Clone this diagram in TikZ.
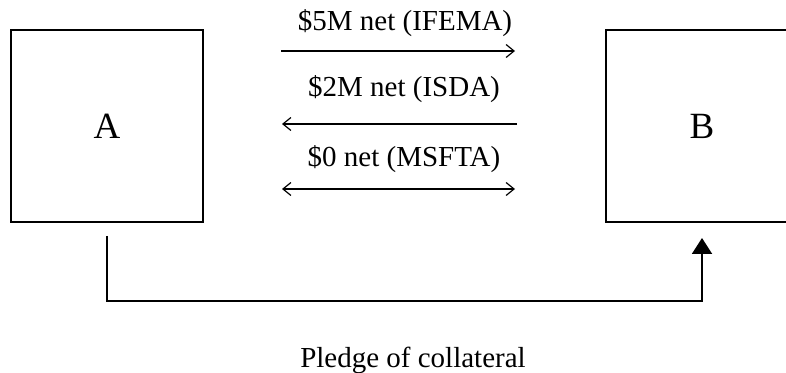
\documentclass[tikz,border=0pt]{standalone}
\usepackage{fontspec}
\setmainfont{Liberation Serif}
\usetikzlibrary{arrows.meta,calc}

\begin{document}
\begin{tikzpicture}[x=0.5pt,y=-0.5pt,
    party/.style={draw, line width=1pt, minimum width=96pt, minimum height=96pt,
        inner sep=0pt, font=\fontsize{18.5}{20}\selectfont},
    deal/.style={anchor=base, inner sep=0pt, font=\fontsize{14.5}{16}\selectfont},
    flow/.style={line width=0.6pt, -{Straight Barb[length=4pt,width=6.5pt]}}]
        \useasboundingbox (0,0) rectangle (786,373);

        \node[party] (A) at (107,126) {A};
        \node[party] (B) at (702,126) {B};

        % netting labels
        \node[deal] (ifema) at (405,31) {\$5M net (IFEMA)};
        \node[deal] (isda) at (404,97) {\$2M net (ISDA)};
        \node[deal] (msfta) at (404,167) {\$0 net (MSFTA)};

        \coordinate (l1) at (281,51);  \coordinate (r1) at (515,51);
        \coordinate (l2) at (282,124); \coordinate (r2) at (517,124);
        \coordinate (l3) at (282,189); \coordinate (r3) at (515,189);

        \draw[flow] (l1) -- (r1);
        \draw[flow] (r2) -- (l2);
        \draw[flow, {Straight Barb[length=4pt,width=6.5pt]}-{Straight Barb[length=4pt,width=6.5pt]}] (l3) -- (r3);

        % collateral
        \coordinate (a0) at ($(A.south)+(0,13)$);
        \coordinate (b0) at ($(B.south)+(0,15)$);
        \draw[line width=1pt, -{Triangle[width=10pt,length=8pt]}] (a0) -- ++(0,65) -| (b0);

        \node[deal] (pledge) at (413,367) {Pledge of collateral};
    \end{tikzpicture}
\end{document}
